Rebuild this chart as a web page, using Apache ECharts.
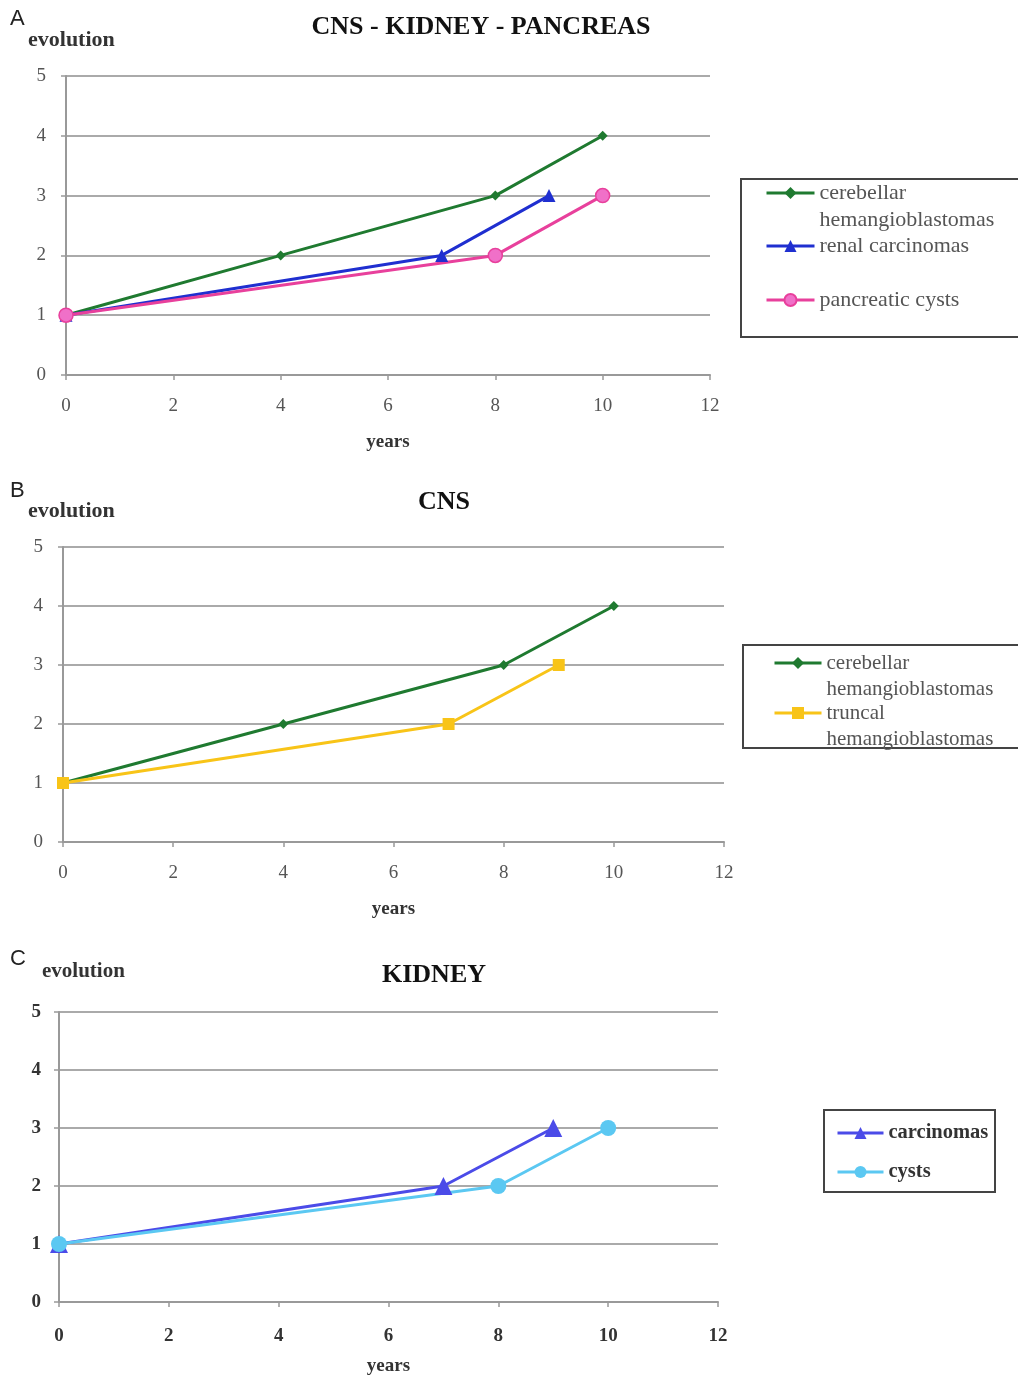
<!DOCTYPE html>
<html><head><meta charset="utf-8">
<script src="https://cdn.jsdelivr.net/npm/echarts@6/dist/echarts.min.js"></script>
<style>html,body{margin:0;padding:0;background:#fff}#c{width:1018px;height:1377px}</style>
</head><body><div id="c"></div>
<script>
// ---- data ----
const xTicks = [0, 2, 4, 6, 8, 10, 12];
const yTicks = [0, 1, 2, 3, 4, 5];
// Panel A: CNS - KIDNEY - PANCREAS
const aCerebellarYears = [0, 4, 8, 10];
const aCerebellarEvo   = [1, 2, 3, 4];
const aRenalYears      = [0, 7, 9];
const aRenalEvo        = [1, 2, 3];
const aPancreasYears   = [0, 8, 10];
const aPancreasEvo     = [1, 2, 3];
// Panel B: CNS
const bCerebellarYears = [0, 4, 8, 10];
const bCerebellarEvo   = [1, 2, 3, 4];
const bTruncalYears    = [0, 7, 9];
const bTruncalEvo      = [1, 2, 3];
// Panel C: KIDNEY
const cCarcYears = [0, 7, 9];
const cCarcEvo   = [1, 2, 3];
const cCystYears = [0, 8, 10];
const cCystEvo   = [1, 2, 3];

const titles = ['CNS - KIDNEY - PANCREAS', 'CNS', 'KIDNEY'];
const panelLetters = ['A', 'B', 'C'];

function pairs(xs, ys) { return xs.map((x, i) => [x, ys[i]]); }

const SERIF = '"Liberation Serif","Times New Roman",serif';
const grids = [
  {left: 66, top: 76, width: 644, height: 299},
  {left: 63, top: 547, width: 661, height: 295},
  {left: 59, top: 1012, width: 659, height: 290}
].map(g => Object.assign(g, {outerBoundsMode: 'none', containLabel: false}));
const xLabelMargin = [22, 22, 25];
const yLabelMargin = [20, 20, 18];
const xNameGap = [58, 58, 55];
const labelColor = ['#555', '#555', '#333'];
const labelWeight = ['normal', 'normal', 'bold'];

const xAxes = grids.map((g, i) => ({
  type: 'value', gridIndex: i, min: 0, max: 12, interval: 2,
  name: 'years', nameLocation: 'middle', nameGap: xNameGap[i],
  nameTextStyle: {fontFamily: SERIF, fontWeight: 'bold', fontSize: 19, color: '#333'},
  axisLine: {show: true, lineStyle: {color: '#999', width: 2}},
  axisTick: {show: true, length: 5, lineStyle: {color: '#999', width: 1.5}},
  axisLabel: {fontFamily: SERIF, fontSize: 19, color: labelColor[i], fontWeight: labelWeight[i], margin: xLabelMargin[i]},
  splitLine: {show: false}
}));
const yAxes = grids.map((g, i) => ({
  type: 'value', gridIndex: i, min: 0, max: 5, interval: 1,
  axisLine: {show: true, lineStyle: {color: '#999', width: 2}},
  axisTick: {show: true, length: 5, lineStyle: {color: '#999', width: 1.5}},
  axisLabel: {fontFamily: SERIF, fontSize: 19, color: labelColor[i], fontWeight: labelWeight[i], margin: yLabelMargin[i]},
  splitLine: {show: true, lineStyle: {color: '#aaa', width: 2}}
}));

function line(name, gi, data, color, symbol, size, fill) {
  return {
    type: 'line', name: name, xAxisIndex: gi, yAxisIndex: gi, data: data,
    symbol: symbol, symbolSize: size, showSymbol: true,
    lineStyle: {color: color, width: 3},
    itemStyle: {color: fill || color, borderColor: color, borderWidth: fill ? 1.5 : 0},
    animation: false, z: 3
  };
}

const GREEN = '#1f7a30', BLUE = '#1f2fd0', PINK = '#e8409c', PINKFILL = '#f070c8',
      YELLOW = '#f8c418', CARC = '#4b4be8', CYST = '#5bc8f2';

const series = [
  line('cerebellar hemangioblastomas', 0, pairs(aCerebellarYears, aCerebellarEvo), GREEN, 'diamond', 10),
  line('renal carcinomas', 0, pairs(aRenalYears, aRenalEvo), BLUE, 'triangle', 13),
  line('pancreatic cysts', 0, pairs(aPancreasYears, aPancreasEvo), PINK, 'circle', 14, PINKFILL),
  line('cerebellar hemangioblastomas ', 1, pairs(bCerebellarYears, bCerebellarEvo), GREEN, 'diamond', 10),
  line('truncal hemangioblastomas', 1, pairs(bTruncalYears, bTruncalEvo), YELLOW, 'rect', 12),
  line('carcinomas', 2, pairs(cCarcYears, cCarcEvo), CARC, 'triangle', 18),
  line('cysts', 2, pairs(cCystYears, cCystEvo), CYST, 'circle', 16)
];

function wrap(n) {
  const t = n.trim();
  // leading empty line keeps the first text line level with the legend icon
  if (t === 'cerebellar hemangioblastomas') return ' \ncerebellar\nhemangioblastomas';
  if (t === 'truncal hemangioblastomas') return ' \ntruncal\nhemangioblastomas';
  return t;
}
function leg(name, left, top, opts) {
  const o = Object.assign({fontSize: 22, lh: 27, color: '#555', weight: 'normal', w: 48, ih: 15}, opts || {});
  return {
    data: [name], left: left, top: top, orient: 'vertical', padding: 0,
    itemWidth: o.w, itemHeight: o.ih, selectedMode: false,
    formatter: wrap,
    lineStyle: {width: 3},
    textStyle: {fontFamily: SERIF, fontSize: o.fontSize, color: o.color, fontWeight: o.weight, lineHeight: o.lh}
  };
}
const legends = [
  leg('cerebellar hemangioblastomas', 765, 193 - 40.5),
  leg('renal carcinomas', 765, 246 - 13.5),
  leg('pancreatic cysts', 765, 300 - 13.5),
  leg('cerebellar hemangioblastomas ', 773, 663 - 39, {fontSize: 21, lh: 26, w: 47}),
  leg('truncal hemangioblastomas', 773, 713 - 39, {fontSize: 21, lh: 26, w: 47}),
  leg('carcinomas', 836, 1133 - 13, {fontSize: 20.5, lh: 26, color: '#333', weight: 'bold', w: 46}),
  leg('cysts', 836, 1172 - 13, {fontSize: 20.5, lh: 26, color: '#333', weight: 'bold', w: 46})
];

const titleComps = [
  {text: titles[0], left: 481, top: 14, textAlign: 'center'},
  {text: titles[1], left: 444, top: 489, textAlign: 'center'},
  {text: titles[2], left: 434, top: 962, textAlign: 'center'}
].map(t => Object.assign(t, {textStyle: {fontFamily: SERIF, fontWeight: 'bold', fontSize: 26, color: '#111'}}));
const evoComps = [[28, 29, 22], [28, 500, 22], [42, 961, 21]].map(p => ({
  text: 'evolution', left: p[0], top: p[1],
  textStyle: {fontFamily: SERIF, fontWeight: 'bold', fontSize: p[2], color: '#333'}
}));
const letterComps = [[10, 8], [10, 480], [10, 948]].map((p, i) => ({
  text: panelLetters[i], left: p[0], top: p[1],
  textStyle: {fontFamily: '"Liberation Sans",Arial,sans-serif', fontWeight: 'normal', fontSize: 22, color: '#222'}
}));

const boxes = [[741, 179, 300, 158], [743, 645, 300, 103], [824, 1110, 171, 82]].map(b => ({
  type: 'rect', shape: {x: b[0], y: b[1], width: b[2], height: b[3]},
  style: {fill: 'none', stroke: '#444', lineWidth: 2}, z: 1
}));

const chart = echarts.init(document.getElementById('c'));
chart.setOption({
  backgroundColor: '#fff',
  animation: false,
  title: titleComps.concat(evoComps, letterComps).map(t => Object.assign({padding: 0}, t)),
  grid: grids,
  xAxis: xAxes,
  yAxis: yAxes,
  legend: legends,
  series: series,
  graphic: boxes
});
</script></body></html>
